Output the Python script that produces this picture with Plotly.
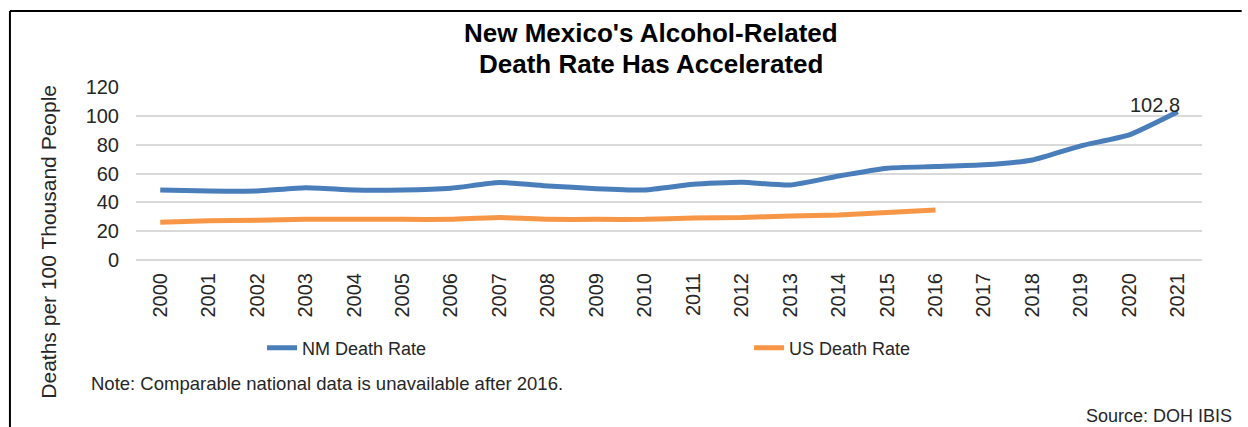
import plotly.graph_objects as go

years = [str(y) for y in range(2000, 2022)]
nm_rate = [48.6, 47.9, 47.9, 50.2, 48.6, 48.6, 49.8, 53.7, 51.4, 49.5, 48.6, 52.5,
           53.9, 52.0, 58.3, 63.7, 64.8, 66.0, 69.4, 79.2, 86.8, 102.8]
us_years = [str(y) for y in range(2000, 2017)]
us_rate = [26.2, 27.3, 27.5, 28.2, 28.2, 28.2, 28.2, 29.4, 28.2, 28.2, 28.2, 29.2,
           29.4, 30.6, 31.3, 32.9, 34.7]
y_ticks = [0, 20, 40, 60, 80, 100, 120]
title_lines = ["New Mexico's Alcohol-Related", "Death Rate Has Accelerated"]

FONT = "Liberation Sans, Arial, sans-serif"
W, H = 1248, 427
L, R, T, B = 136, 1210, 87, 260  # plot area in px


def px(xp):
    return (xp - L) / (R - L)


def py(yp):
    return (B - yp) / (B - T)


fig = go.Figure()
fig.add_trace(go.Scatter(x=years, y=nm_rate, mode="lines", name="NM Death Rate",
                         line=dict(color="#4A7EBB", width=5, shape="spline", smoothing=0.5)))
fig.add_trace(go.Scatter(x=us_years, y=us_rate, mode="lines", name="US Death Rate",
                         line=dict(color="#F79646", width=5, shape="spline", smoothing=0.5)))

fig.update_layout(
    width=W, height=H,
    margin=dict(l=L, r=W - R, t=T, b=H - B, pad=0),
    paper_bgcolor="white", plot_bgcolor="white",
    font=dict(family=FONT, size=20, color="#262626"),
    showlegend=True,
    legend=dict(orientation="h", x=px(263), y=py(348), xanchor="left", yanchor="middle",
                entrywidth=442, entrywidthmode="pixels", font=dict(size=18, color="#262626"),
                bgcolor="rgba(0,0,0,0)", borderwidth=0),
    xaxis=dict(type="category", categoryorder="array", categoryarray=years,
               range=[-0.5, len(years) - 0.5], tickangle=-90, showgrid=False,
               showline=False, zeroline=False, ticks="", tickfont=dict(size=20, color="#262626"),
               ticklabelstandoff=8),
    yaxis=dict(range=[0, 120], tickvals=y_ticks, showgrid=True, gridcolor="#D9D9D9",
               gridwidth=2, zeroline=True, zerolinecolor="#D9D9D9", zerolinewidth=2,
               showline=False, ticks="", tickfont=dict(size=20, color="#262626"),
               ticklabelstandoff=16),
)

# Title (two lines placed separately to match the tight line spacing)
for line_text, yc in zip(title_lines, [33, 64]):
    fig.add_annotation(text=f"<b>{line_text}</b>", xref="paper", yref="paper",
                       x=px(655), y=py(yc), xanchor="center", yanchor="middle",
                       showarrow=False, font=dict(size=26, color="black"))
# Y axis title
fig.add_annotation(text="Deaths per 100 Thousand People", textangle=-90,
                   xref="paper", yref="paper", x=px(47), y=py(242), xanchor="center",
                   yanchor="middle", showarrow=False, font=dict(size=21, color="#262626"))
# Data label on last NM point
fig.add_annotation(text=f"{nm_rate[-1]}", x=len(years) - 1, y=nm_rate[-1], xref="x", yref="y",
                   xanchor="right", yanchor="bottom", xshift=4, yshift=-6, showarrow=False,
                   font=dict(size=20, color="#262626"))
# Note and source
fig.add_annotation(text="Note: Comparable national data is unavailable after 2016.",
                   xref="paper", yref="paper", x=px(89), y=py(383), xanchor="left",
                   yanchor="middle", showarrow=False, font=dict(size=18.5, color="#262626"))
fig.add_annotation(text="Source: DOH IBIS", xref="paper", yref="paper", x=px(1242), y=py(416),
                   xanchor="right", yanchor="middle", showarrow=False,
                   font=dict(size=18, color="#262626"))

# Frame lines
fig.add_shape(type="line", xref="paper", yref="paper", x0=px(9), x1=px(1250), y0=py(11), y1=py(11),
              line=dict(color="black", width=2))
fig.add_shape(type="line", xref="paper", yref="paper", x0=px(9), x1=px(9), y0=py(11), y1=py(430),
              line=dict(color="black", width=2))

fig.write_html("out.html")
